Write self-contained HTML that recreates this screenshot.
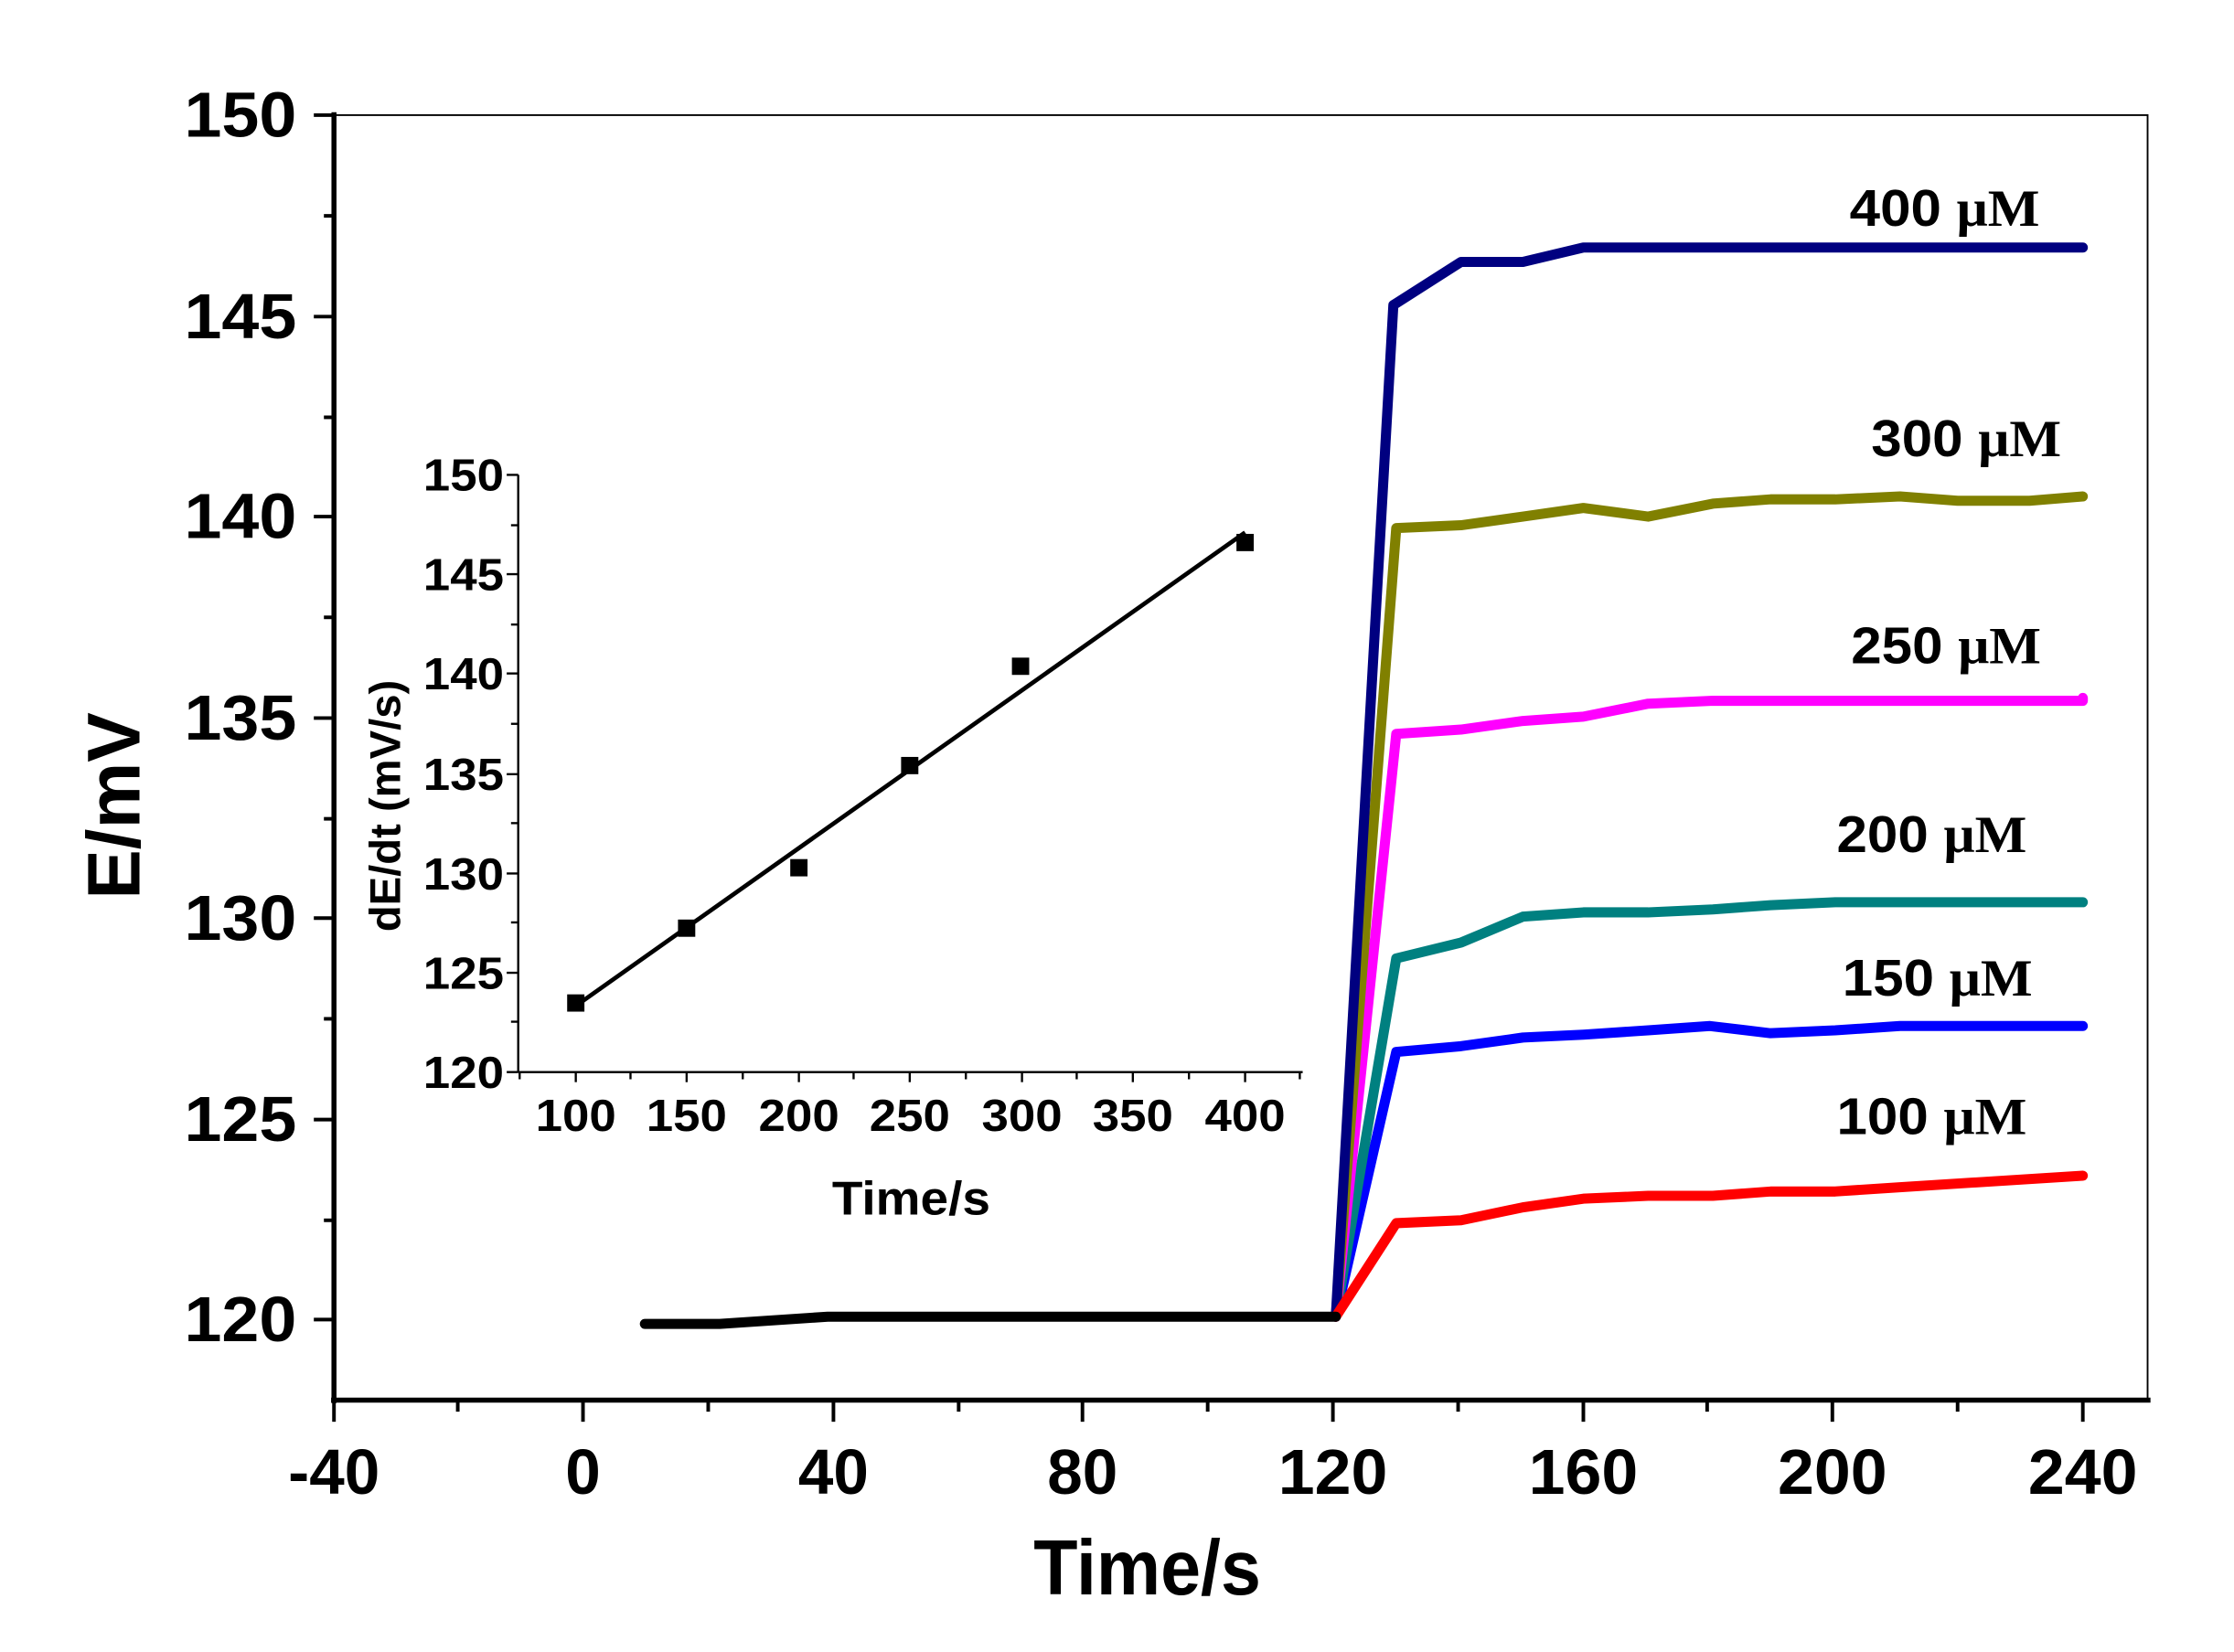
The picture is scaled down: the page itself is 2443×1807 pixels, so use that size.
<!DOCTYPE html>
<html><head><style>html,body{margin:0;padding:0;background:#fff}svg{display:block}</style></head>
<body>
<svg width="2443" height="1807" viewBox="0 0 1552 1148" xmlns="http://www.w3.org/2000/svg" font-family="Liberation Sans, sans-serif" font-weight="bold">
<rect width="1552" height="1148" fill="#fff"/>
<rect x="232" y="80" width="1260" height="893" fill="none" stroke="#000" stroke-width="1.2"/>
<line x1="232" y1="78" x2="232" y2="975" stroke="#000" stroke-width="3.5"/>
<line x1="230" y1="973" x2="1494" y2="973" stroke="#000" stroke-width="3.5"/>
<g stroke="#000" stroke-width="2.5">
<line x1="218" y1="80" x2="232" y2="80"/><line x1="218" y1="220" x2="232" y2="220"/><line x1="218" y1="359" x2="232" y2="359"/><line x1="218" y1="499" x2="232" y2="499"/><line x1="218" y1="638" x2="232" y2="638"/><line x1="218" y1="778" x2="232" y2="778"/><line x1="218" y1="917" x2="232" y2="917"/>
<line x1="225" y1="150" x2="232" y2="150"/><line x1="225" y1="290" x2="232" y2="290"/><line x1="225" y1="429" x2="232" y2="429"/><line x1="225" y1="569" x2="232" y2="569"/><line x1="225" y1="708" x2="232" y2="708"/><line x1="225" y1="848" x2="232" y2="848"/>
<line x1="232" y1="973" x2="232" y2="988"/><line x1="405" y1="973" x2="405" y2="988"/><line x1="579" y1="973" x2="579" y2="988"/><line x1="752" y1="973" x2="752" y2="988"/><line x1="926" y1="973" x2="926" y2="988"/><line x1="1100" y1="973" x2="1100" y2="988"/><line x1="1273" y1="973" x2="1273" y2="988"/><line x1="1447" y1="973" x2="1447" y2="988"/>
<line x1="318" y1="973" x2="318" y2="981"/><line x1="492" y1="973" x2="492" y2="981"/><line x1="666" y1="973" x2="666" y2="981"/><line x1="839" y1="973" x2="839" y2="981"/><line x1="1013" y1="973" x2="1013" y2="981"/><line x1="1186" y1="973" x2="1186" y2="981"/><line x1="1360" y1="973" x2="1360" y2="981"/>
</g>
<g font-size="44" text-anchor="end">
<text x="206" y="95" textLength="78" lengthAdjust="spacingAndGlyphs">150</text><text x="206" y="235" textLength="78" lengthAdjust="spacingAndGlyphs">145</text><text x="206" y="374" textLength="78" lengthAdjust="spacingAndGlyphs">140</text><text x="206" y="514" textLength="78" lengthAdjust="spacingAndGlyphs">135</text><text x="206" y="653" textLength="78" lengthAdjust="spacingAndGlyphs">130</text><text x="206" y="793" textLength="78" lengthAdjust="spacingAndGlyphs">125</text><text x="206" y="932" textLength="78" lengthAdjust="spacingAndGlyphs">120</text>
</g>
<g font-size="44" text-anchor="middle">
<text x="232" y="1038">-40</text><text x="405" y="1038">0</text><text x="579" y="1038">40</text><text x="752" y="1038">80</text><text x="926" y="1038" textLength="76" lengthAdjust="spacingAndGlyphs">120</text><text x="1100" y="1038" textLength="76" lengthAdjust="spacingAndGlyphs">160</text><text x="1273" y="1038" textLength="76" lengthAdjust="spacingAndGlyphs">200</text><text x="1447" y="1038" textLength="76" lengthAdjust="spacingAndGlyphs">240</text>
</g>
<text x="797" y="1108" font-size="54" text-anchor="middle" textLength="158" lengthAdjust="spacingAndGlyphs">Time/s</text>
<text transform="translate(97,560) rotate(-90)" font-size="52" text-anchor="middle">E/mV</text>
<g fill="none" stroke-width="7" stroke-linejoin="round" stroke-linecap="round">
<polyline stroke="#0000ff" points="928,915 970,731 1015,727 1058,721 1100,719 1145,716 1188,713 1230,718 1275,716 1320,713 1447,713"/>
<polyline stroke="#008080" points="928,915 970,666 1015,655 1058,637 1100,634 1145,634 1190,632 1230,629 1275,627 1447,627"/>
<polyline stroke="#ff00ff" points="928,915 970,510 1015,507 1058,501 1100,498 1145,489 1190,487 1447,487 1447,485"/>
<polyline stroke="#808000" points="928,915 970,367 1015,365 1058,359 1100,353 1145,359 1190,350 1230,347 1275,347 1320,345 1360,348 1410,348 1447,345"/>
<polyline stroke="#000080" points="928,915 968,212 1015,182 1058,182 1100,172 1447,172"/>
<polyline stroke="#ff0000" points="928,915 970,850 1015,848 1058,839 1100,833 1145,831 1190,831 1230,828 1275,828 1320,825 1447,817"/>
<polyline stroke="#000" points="448,920 500,920 575,915 928,915"/>
</g>
<g font-size="36" text-anchor="end">
<text x="1417" y="157" textLength="132" lengthAdjust="spacingAndGlyphs">400 <tspan font-family="Liberation Serif, serif">μM</tspan></text>
<text x="1432" y="317" textLength="132" lengthAdjust="spacingAndGlyphs">300 <tspan font-family="Liberation Serif, serif">μM</tspan></text>
<text x="1418" y="461" textLength="132" lengthAdjust="spacingAndGlyphs">250 <tspan font-family="Liberation Serif, serif">μM</tspan></text>
<text x="1408" y="592" textLength="132" lengthAdjust="spacingAndGlyphs">200 <tspan font-family="Liberation Serif, serif">μM</tspan></text>
<text x="1412" y="692" textLength="132" lengthAdjust="spacingAndGlyphs">150 <tspan font-family="Liberation Serif, serif">μM</tspan></text>
<text x="1408" y="788" textLength="132" lengthAdjust="spacingAndGlyphs">100 <tspan font-family="Liberation Serif, serif">μM</tspan></text>
</g>
<g stroke="#000" stroke-width="1.5">
<line x1="360" y1="330" x2="360" y2="745"/><line x1="360" y1="745" x2="905" y2="745"/>
<line x1="352" y1="330" x2="360" y2="330"/><line x1="352" y1="399" x2="360" y2="399"/><line x1="352" y1="468" x2="360" y2="468"/><line x1="352" y1="538" x2="360" y2="538"/><line x1="352" y1="607" x2="360" y2="607"/><line x1="352" y1="676" x2="360" y2="676"/><line x1="352" y1="745" x2="360" y2="745"/>
<line x1="355" y1="365" x2="360" y2="365"/><line x1="355" y1="434" x2="360" y2="434"/><line x1="355" y1="503" x2="360" y2="503"/><line x1="355" y1="572" x2="360" y2="572"/><line x1="355" y1="641" x2="360" y2="641"/><line x1="355" y1="710" x2="360" y2="710"/>
<line x1="400" y1="745" x2="400" y2="752"/><line x1="477" y1="745" x2="477" y2="752"/><line x1="555" y1="745" x2="555" y2="752"/><line x1="632" y1="745" x2="632" y2="752"/><line x1="710" y1="745" x2="710" y2="752"/><line x1="787" y1="745" x2="787" y2="752"/><line x1="865" y1="745" x2="865" y2="752"/>
<line x1="438" y1="745" x2="438" y2="750"/><line x1="516" y1="745" x2="516" y2="750"/><line x1="593" y1="745" x2="593" y2="750"/><line x1="671" y1="745" x2="671" y2="750"/><line x1="748" y1="745" x2="748" y2="750"/><line x1="826" y1="745" x2="826" y2="750"/><line x1="903" y1="745" x2="903" y2="750"/><line x1="361" y1="745" x2="361" y2="750"/>
</g>
<g font-size="31" text-anchor="end">
<text x="350" y="341" textLength="56" lengthAdjust="spacingAndGlyphs">150</text><text x="350" y="410" textLength="56" lengthAdjust="spacingAndGlyphs">145</text><text x="350" y="479" textLength="56" lengthAdjust="spacingAndGlyphs">140</text><text x="350" y="549" textLength="56" lengthAdjust="spacingAndGlyphs">135</text><text x="350" y="618" textLength="56" lengthAdjust="spacingAndGlyphs">130</text><text x="350" y="687" textLength="56" lengthAdjust="spacingAndGlyphs">125</text><text x="350" y="756" textLength="56" lengthAdjust="spacingAndGlyphs">120</text>
</g>
<g font-size="31" text-anchor="middle">
<text x="400" y="786" textLength="56" lengthAdjust="spacingAndGlyphs">100</text><text x="477" y="786" textLength="56" lengthAdjust="spacingAndGlyphs">150</text><text x="555" y="786" textLength="56" lengthAdjust="spacingAndGlyphs">200</text><text x="632" y="786" textLength="56" lengthAdjust="spacingAndGlyphs">250</text><text x="710" y="786" textLength="56" lengthAdjust="spacingAndGlyphs">300</text><text x="787" y="786" textLength="56" lengthAdjust="spacingAndGlyphs">350</text><text x="865" y="786" textLength="56" lengthAdjust="spacingAndGlyphs">400</text>
</g>
<text x="633" y="844" font-size="33" text-anchor="middle" textLength="110" lengthAdjust="spacingAndGlyphs">Time/s</text>
<text transform="translate(278,560) rotate(-90)" font-size="30" text-anchor="middle">dE/dt (mV/s)</text>
<line x1="400" y1="699" x2="865" y2="370" stroke="#000" stroke-width="3"/>
<g fill="#000">
<rect x="394" y="691" width="12" height="12"/><rect x="471" y="639" width="12" height="12"/><rect x="549" y="597" width="12" height="12"/><rect x="626" y="526" width="12" height="12"/><rect x="703" y="457" width="12" height="12"/><rect x="859" y="371" width="12" height="12"/>
</g>
</svg>
</body></html>
